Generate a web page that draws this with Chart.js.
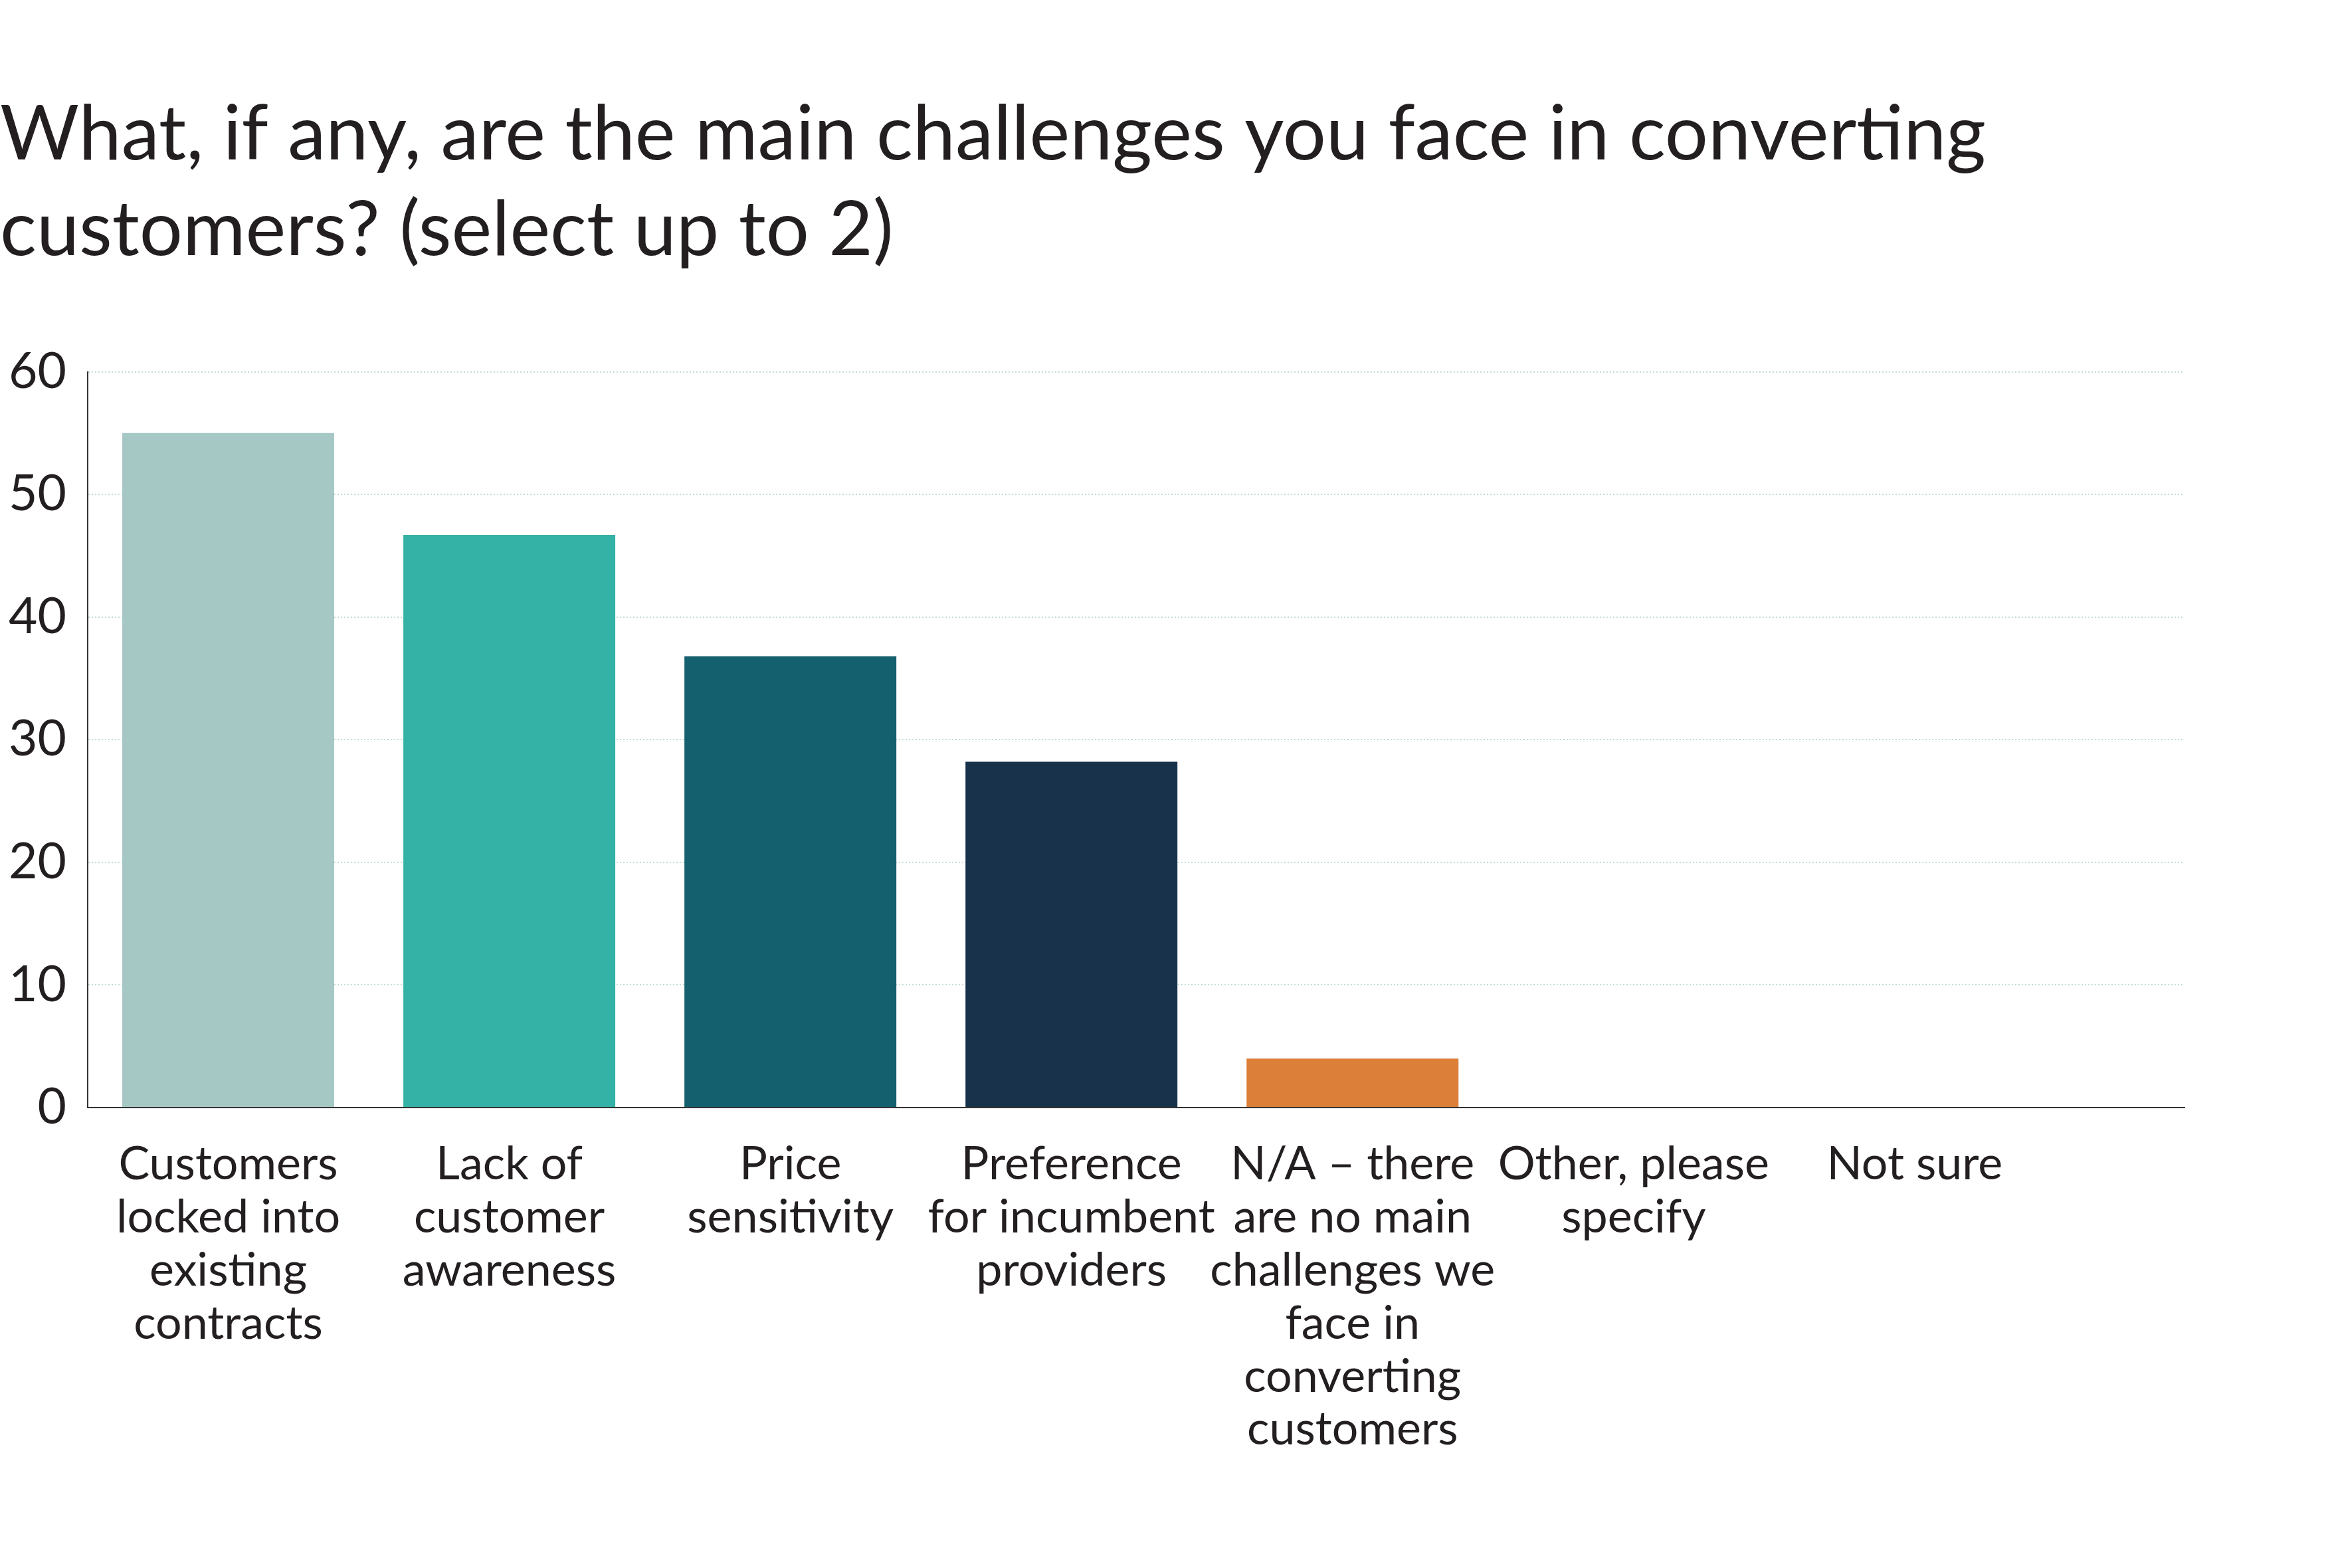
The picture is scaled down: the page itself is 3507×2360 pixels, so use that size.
<!DOCTYPE html>
<html>
<head>
<meta charset="utf-8">
<script src="https://cdn.jsdelivr.net/npm/chart.js@4"></script>
<style>
  html, body { margin: 0; padding: 0; background: #ffffff; }
  canvas { display: block; }
</style>
</head>
<body>
<canvas id="c" width="3507" height="2360"></canvas>
<script>
const titleLines = [
  "What, if any, are the main challenges you face in converting",
  "customers? (select up to 2)"
];
const categories = [
  ["Customers", "locked into", "existing", "contracts"],
  ["Lack of", "customer", "awareness"],
  ["Price", "sensitivity"],
  ["Preference", "for incumbent", "providers"],
  ["N/A \u2013 there", "are no main", "challenges we", "face in", "converting", "customers"],
  ["Other, please", "specify"],
  ["Not sure"]
];
const values = [55.0, 46.7, 36.8, 28.2, 4.0, 0, 0];
const barColors = ["#a6c8c5", "#33b2a5", "#15606f", "#18324b", "#db7f39", "#db7f39", "#db7f39"];
const yTicks = [0, 10, 20, 30, 40, 50, 60];

const textColor = "#231f20";
const gridColor = "#c2dcd9";

const data = values.map((v, i) => ({ x: i, y: v }));

new Chart(document.getElementById("c"), {
  type: "bar",
  data: {
    datasets: [{
      data: data,
      backgroundColor: barColors,
      borderWidth: 0,
      barPercentage: 0.754,
      categoryPercentage: 1.0
    }]
  },
  options: {
    responsive: false,
    devicePixelRatio: 1,
    animation: false,
    layout: { padding: { left: 0, right: 219, top: 0, bottom: 0 } },
    plugins: {
      legend: { display: false },
      tooltip: { enabled: false },
      title: {
        display: true,
        text: titleLines,
        align: "start",
        color: textColor,
        font: { family: "Lato", size: 115, weight: "normal", lineHeight: 1.25 },
        padding: { top: 131, bottom: 141 }
      }
    },
    scales: {
      x: {
        type: "linear",
        min: -0.5,
        max: 6.96,
        offset: false,
        z: 1,
        grid: { display: false, drawTicks: false, offset: false },
        border: { display: true, color: "#333333", width: 2, dash: [2, 3] },
        afterBuildTicks: (scale) => {
          scale.ticks = categories.map((c, i) => ({ value: i }));
        },
        afterFit: (scale) => { scale.height = 693; },
        ticks: {
          autoSkip: false,
          maxRotation: 0,
          minRotation: 0,
          padding: 46,
          color: textColor,
          font: { family: "Lato", size: 70, lineHeight: 1.14 },
          callback: (value) => categories[value] || ""
        }
      },
      y: {
        min: 0,
        max: 60,
        grid: {
          drawTicks: false,
          lineWidth: 2,
          color: (ctx) => (ctx.tick && ctx.tick.value === 0 ? "rgba(0,0,0,0)" : gridColor)
        },
        border: { display: true, color: "#333333", width: 2, dash: [2, 3] },
        afterBuildTicks: (scale) => {
          scale.ticks = yTicks.map(v => ({ value: v }));
        },
        afterFit: (scale) => { scale.width = 132; },
        ticks: {
          padding: 32,
          color: textColor,
          font: { family: "Lato", size: 75 }
        }
      }
    }
  }
});
</script>
</body>
</html>
